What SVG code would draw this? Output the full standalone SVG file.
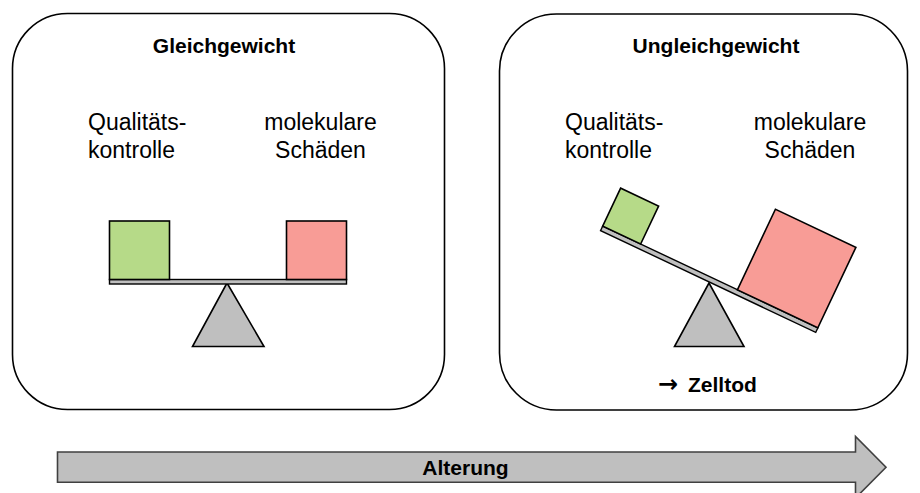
<svg xmlns="http://www.w3.org/2000/svg" width="920" height="493" viewBox="0 0 920 493">
<style>
.box{fill:#ffffff;stroke:#000;stroke-width:1.6}
.t{font-family:"Liberation Sans",Arial,sans-serif;font-size:23px;fill:#000}
.h{font-family:"Liberation Sans",Arial,sans-serif;font-size:21px;font-weight:bold;fill:#000}
.g{fill:#b6da88;stroke:#000;stroke-width:1.6}
.r{fill:#f89c96;stroke:#000;stroke-width:1.6}
.beam{fill:#bfbfbf;stroke:#000;stroke-width:1.4}
.tri{fill:#bfbfbf;stroke:#000;stroke-width:1.6;stroke-linejoin:miter}
.arrow{fill:#bfbfbf;stroke:#404040;stroke-width:1.6}
</style>
<rect width="920" height="493" fill="#ffffff"/>
<g id="gleichgewicht">
<rect class="box" x="12.5" y="13.5" width="432" height="396" rx="55" ry="55"/>
<text class="h" x="224" y="53" text-anchor="middle">Gleichgewicht</text>
<text class="t" x="88" y="130">Qualitäts-</text>
<text class="t" x="88" y="158">kontrolle</text>
<text class="t" x="320.5" y="130" text-anchor="middle">molekulare</text>
<text class="t" x="320.5" y="158" text-anchor="middle">Schäden</text>
<polygon class="tri" points="227,283 192.5,346.5 264,346.5"/>
<rect class="beam" x="109.5" y="279.5" width="237" height="4.5"/>
<rect class="g" x="109.5" y="221" width="60" height="58.5"/>
<rect class="r" x="286.5" y="221" width="60" height="58.5"/>
</g>
<g id="ungleichgewicht">
<rect class="box" x="499.5" y="14" width="408" height="396" rx="57" ry="57"/>
<text class="h" x="716" y="53" text-anchor="middle">Ungleichgewicht</text>
<text class="t" x="565" y="130">Qualitäts-</text>
<text class="t" x="565" y="158">kontrolle</text>
<text class="t" x="810" y="130" text-anchor="middle">molekulare</text>
<text class="t" x="810" y="158" text-anchor="middle">Schäden</text>
<polygon class="tri" points="709,283 674.5,346.5 744,346.5"/>
<g transform="translate(709.2,279.2) rotate(25.3)">
<rect class="beam" x="-119" y="-2.5" width="238" height="5"/>
<rect class="g" x="-119" y="-44.5" width="42" height="42"/>
<rect class="r" x="30" y="-91.5" width="89" height="89"/>
</g>
<text class="h" x="658" y="392"><tspan font-family="'DejaVu Sans',sans-serif" font-size="24">→</tspan><tspan x="688">Zelltod</tspan></text>
</g>
<g id="connectors">
<g id="alterung">
<polygon class="arrow" points="57.5,452 855.5,452 855.5,436.5 886,467.3 855.5,498 855.5,482.3 57.5,482.3"/>
<text class="h" x="465.5" y="475" text-anchor="middle">Alterung</text>
</g>
</g>
</svg>
